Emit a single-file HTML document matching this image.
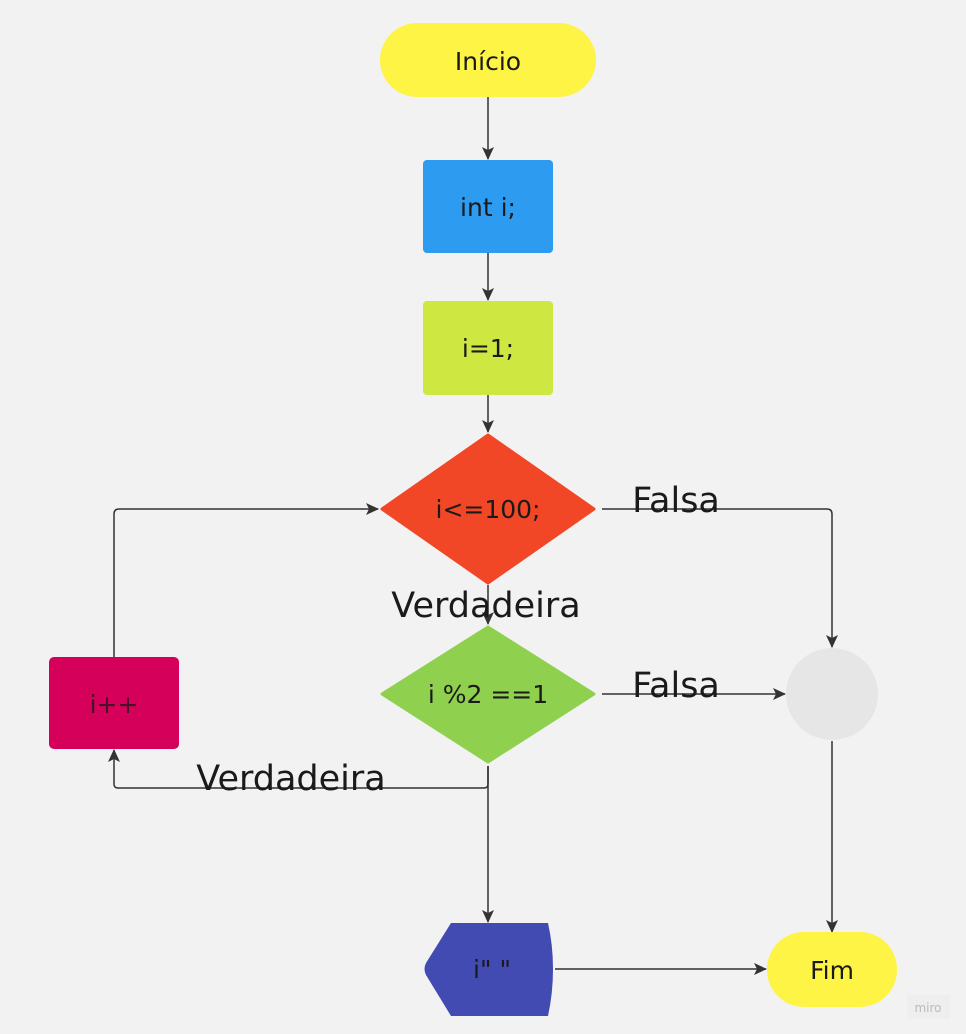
<!DOCTYPE html>
<html><head><meta charset="utf-8"><style>
html,body{margin:0;padding:0;background:#f2f2f2;}
svg{display:block;}
text{font-family:"DejaVu Sans","Liberation Sans",sans-serif;fill:#1a1a1a;}
</style></head><body>
<svg width="966" height="1034" viewBox="0 0 966 1034" xmlns="http://www.w3.org/2000/svg">
<defs>
<marker id="a" markerWidth="14" markerHeight="14" refX="12" refY="7" orient="auto" markerUnits="userSpaceOnUse">
<path d="M0,1 L13,7 L0,13 L3,7 Z" fill="#333"/>
</marker>
</defs>
<rect width="966" height="1034" fill="#f2f2f2"/>
<g stroke="#333" stroke-width="1.5" fill="none">
<path d="M488,97 V159" marker-end="url(#a)"/>
<path d="M488,253 V300" marker-end="url(#a)"/>
<path d="M488,395 V432" marker-end="url(#a)"/>
<path d="M488,585 V624" marker-end="url(#a)"/>
<path d="M602,509 H827 Q832,509 832,514 V647" marker-end="url(#a)"/>
<path d="M602,694 H785" marker-end="url(#a)"/>
<path d="M832,741 V932" marker-end="url(#a)"/>
<path d="M488,766 V922" marker-end="url(#a)"/>
<path d="M488,766 V784 Q488,788 484,788 H118 Q114,788 114,784 V750" marker-end="url(#a)"/>
<path d="M114,657 V514 Q114,509 119,509 H378" marker-end="url(#a)"/>
<path d="M555,969 H766" marker-end="url(#a)"/>
</g>
<rect x="380" y="23" width="216" height="74" rx="37" fill="#fef445"/>
<text x="488" y="70" font-size="25" text-anchor="middle">Início</text>
<rect x="423" y="160" width="130" height="93" rx="4" fill="#2d9bf0"/>
<text x="488" y="216" font-size="25" text-anchor="middle">int i;</text>
<rect x="423" y="301" width="130" height="94" rx="4" fill="#cee741"/>
<text x="488" y="357" font-size="25" text-anchor="middle">i=1;</text>
<path d="M488,435 L594,509 L488,583 L382,509 Z" fill="#f24726" stroke="#f24726" stroke-width="3" stroke-linejoin="round"/>
<text x="488" y="518" font-size="25" text-anchor="middle">i&lt;=100;</text>
<path d="M488,627 L594,694 L488,762 L382,694 Z" fill="#8fd14f" stroke="#8fd14f" stroke-width="3" stroke-linejoin="round"/>
<text x="488" y="703" font-size="25" text-anchor="middle">i %2 ==1</text>
<circle cx="832" cy="694" r="46" fill="#e6e6e6"/>
<rect x="767" y="932" width="130" height="75" rx="37" fill="#fef445"/>
<text x="832" y="979" font-size="25" text-anchor="middle">Fim</text>
<path d="M451,923 H548 Q553,945 553,969 Q553,993 548,1016 H451 L426,975 Q423,969 426,963 Z" fill="#414bb2"/>
<text x="492" y="978" font-size="25" text-anchor="middle">i" "</text>
<rect x="49" y="657" width="130" height="92" rx="5" fill="#d5005a"/>
<text x="114" y="713" font-size="25" text-anchor="middle" style="fill:#4a1228">i++</text>
<text x="676" y="512" font-size="35" text-anchor="middle">Falsa</text>
<text x="676" y="697" font-size="35" text-anchor="middle">Falsa</text>
<text x="486" y="617" font-size="35" text-anchor="middle">Verdadeira</text>
<text x="291" y="790" font-size="35" text-anchor="middle">Verdadeira</text>
<rect x="907" y="995" width="43" height="24" fill="#eeeeee"/>
<text x="928" y="1012" font-size="12" text-anchor="middle" style="fill:#bbbbbb">miro</text>
</svg>
</body></html>
